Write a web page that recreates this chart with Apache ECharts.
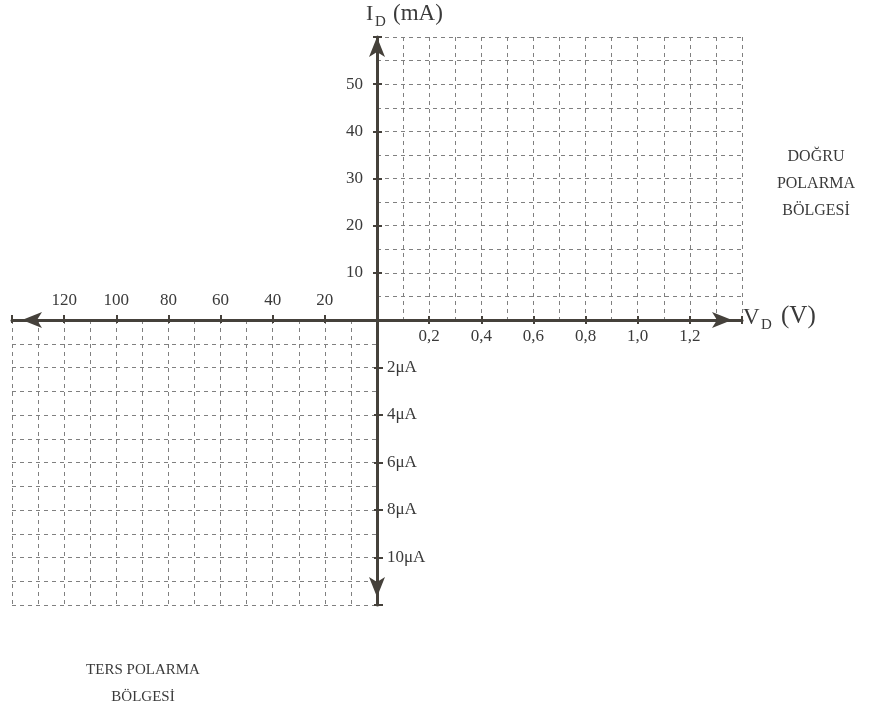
<!DOCTYPE html>
<html>
<head>
<meta charset="utf-8">
<script src="https://cdn.jsdelivr.net/npm/echarts@6/dist/echarts.min.js"></script>
<style>
  html, body { margin: 0; padding: 0; background: #fff; }
  #main { width: 875px; height: 716px; }
</style>
</head>
<body>
<div id="main"></div>
<script>
// forward bias quadrant: V_D (V) and I_D (mA)
var vdMax = 1.4;
var vdLabels = [0.2, 0.4, 0.6, 0.8, 1.0, 1.2];
var idMax = 60;
var idLabels = [10, 20, 30, 40, 50];
// reverse bias quadrant: V (V) and I (uA)
var vrMax = 140;
var vrLabels = [20, 40, 60, 80, 100, 120];
var irMax = 12;
var irLabels = [2, 4, 6, 8, 10];

var font = "'Liberation Serif', 'DejaVu Serif', serif";
var textColor = "#3a3a3a";
var axisColor = "#45413b";
var gridLine = { color: "#808080", width: 1, type: [4, 4] };
var labelSize = 17;

function has(list, v) {
  return list.some(function (t) { return Math.abs(t - Math.abs(v)) < 1e-6; });
}

var chart = echarts.init(document.getElementById("main"), null, { renderer: "canvas" });

var option = {
  animation: false,
  backgroundColor: "#fff",
  grid: [
    { left: 377, top: 37, width: 365, height: 283 },
    { left: 12, top: 320, width: 365, height: 285 }
  ],
  xAxis: [
    {
      type: "value", gridIndex: 0, min: 0, max: vdMax, interval: 0.2, position: "bottom",
      axisLine: { show: true, onZero: false, lineStyle: { color: axisColor, width: 3 },
        symbol: ["none", "arrow"], symbolSize: [12, 20], symbolOffset: [0, -10] },
      axisTick: { show: true, length: 4, lineStyle: { color: axisColor, width: 2 } },
      axisLabel: { margin: 8, fontFamily: font, fontSize: labelSize, color: textColor,
        formatter: function (v) { return has(vdLabels, v) ? v.toFixed(1).replace(".", ",") : ""; } },
      splitLine: { show: true, lineStyle: gridLine },
      minorTick: { show: false, splitNumber: 2 },
      minorSplitLine: { show: true, lineStyle: gridLine }
    },
    {
      type: "value", gridIndex: 0, min: 0, max: vdMax, interval: 0.2, position: "bottom",
      axisLine: { show: false, onZero: false },
      axisTick: { show: true, inside: true, length: 4, lineStyle: { color: axisColor, width: 2 } },
      axisLabel: { show: false }, splitLine: { show: false }
    },
    {
      type: "value", gridIndex: 1, min: -vrMax, max: 0, interval: 20, position: "top",
      axisLine: { show: true, onZero: false, lineStyle: { color: axisColor, width: 3 },
        symbol: ["arrow", "none"], symbolSize: [12, 20], symbolOffset: [10, 0] },
      axisTick: { show: true, length: 5, lineStyle: { color: axisColor, width: 2 } },
      axisLabel: { margin: 11, fontFamily: font, fontSize: labelSize, color: textColor,
        formatter: function (v) { return has(vrLabels, v) ? String(Math.abs(v)) : ""; } },
      splitLine: { show: true, lineStyle: gridLine },
      minorTick: { show: false, splitNumber: 2 },
      minorSplitLine: { show: true, lineStyle: gridLine }
    },
    {
      type: "value", gridIndex: 1, min: -vrMax, max: 0, interval: 20, position: "top",
      axisLine: { show: false, onZero: false },
      axisTick: { show: true, inside: true, length: 3, lineStyle: { color: axisColor, width: 2 } },
      axisLabel: { show: false }, splitLine: { show: false }
    }
  ],
  yAxis: [
    {
      type: "value", gridIndex: 0, min: 0, max: idMax, interval: 10, position: "left",
      axisLine: { show: true, onZero: false, lineStyle: { color: axisColor, width: 3 },
        symbol: ["none", "arrow"], symbolSize: [12, 20] },
      axisTick: { show: true, length: 4, lineStyle: { color: axisColor, width: 2 } },
      axisLabel: { margin: 14, fontFamily: font, fontSize: labelSize, color: textColor,
        formatter: function (v) { return has(idLabels, v) ? String(v) : ""; } },
      splitLine: { show: true, lineStyle: gridLine },
      minorTick: { show: false, splitNumber: 2 },
      minorSplitLine: { show: true, lineStyle: gridLine }
    },
    {
      type: "value", gridIndex: 0, min: 0, max: idMax, interval: 10, position: "left",
      axisLine: { show: false, onZero: false },
      axisTick: { show: true, inside: true, length: 5, lineStyle: { color: axisColor, width: 2 } },
      axisLabel: { show: false }, splitLine: { show: false }
    },
    {
      type: "value", gridIndex: 1, min: -irMax, max: 0, interval: 2, position: "right",
      axisLine: { show: true, onZero: false, lineStyle: { color: axisColor, width: 3 },
        symbol: ["arrow", "none"], symbolSize: [12, 20], symbolOffset: [8, 0] },
      axisTick: { show: true, length: 6, lineStyle: { color: axisColor, width: 2 } },
      axisLabel: { margin: 10, fontFamily: font, fontSize: labelSize, color: textColor,
        formatter: function (v) { return has(irLabels, v) ? Math.abs(v) + "\u03bcA" : ""; } },
      splitLine: { show: true, lineStyle: gridLine },
      minorTick: { show: false, splitNumber: 2 },
      minorSplitLine: { show: true, lineStyle: gridLine }
    },
    {
      type: "value", gridIndex: 1, min: -irMax, max: 0, interval: 2, position: "right",
      axisLine: { show: false, onZero: false },
      axisTick: { show: true, inside: true, length: 3, lineStyle: { color: axisColor, width: 2 } },
      axisLabel: { show: false }, splitLine: { show: false }
    }
  ],
  series: [
    { type: "line", xAxisIndex: 0, yAxisIndex: 0, data: [] },
    { type: "line", xAxisIndex: 2, yAxisIndex: 2, data: [] }
  ],
  graphic: [
    // I_D (mA)
    { type: "text", left: 366, top: 3, style: { text: "I", font: "22px " + font, fill: textColor } },
    { type: "text", left: 375, top: 15, style: { text: "D", font: "15px " + font, fill: textColor } },
    { type: "text", left: 393, top: 2, style: { text: "(mA)", font: "23px " + font, fill: textColor } },
    // V_D (V)
    { type: "text", left: 743, top: 306, style: { text: "V", font: "23px " + font, fill: textColor } },
    { type: "text", left: 761, top: 318, style: { text: "D", font: "15px " + font, fill: textColor } },
    { type: "text", left: 781, top: 304, style: { text: "(V)", font: "25px " + font, fill: textColor } },
    // region labels
    { type: "text", x: 816, y: 143, style: { text: "DO\u011eRU\nPOLARMA\nB\u00d6LGES\u0130",
        font: "16px " + font, fill: textColor, align: "center", lineHeight: 27 } },
    { type: "text", x: 143, y: 657, style: { text: "TERS POLARMA\nB\u00d6LGES\u0130",
        font: "15px " + font, fill: textColor, align: "center", lineHeight: 27 } }
  ]
};

chart.setOption(option);
</script>
</body>
</html>
